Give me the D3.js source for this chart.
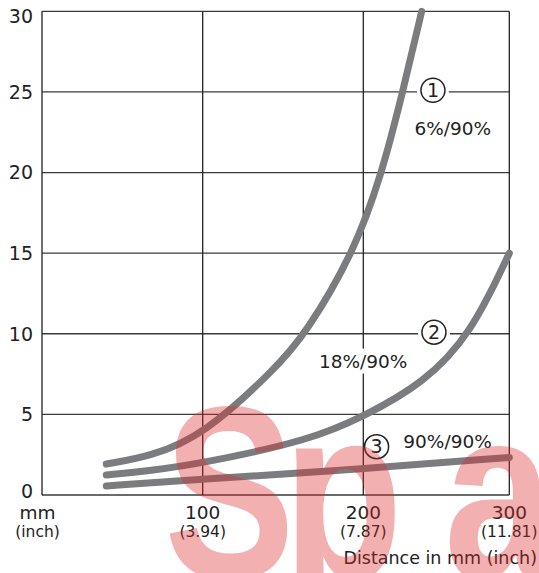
<!DOCTYPE html>
<html>
<head>
<meta charset="utf-8">
<script src="https://cdn.jsdelivr.net/npm/d3@7"></script>
<style>
  body { margin: 0; background: #fff; }
  text { font-family: "DejaVu Sans", sans-serif; fill: #222; }
</style>
</head>
<body>
<div id="chart"></div>
<script>
// data
// ==============================
var distTicks = [0, 100, 200, 300];
var inchLabels = ["", "(3.94)", "(7.87)", "(11.81)"];
var yTicks = [0, 5, 10, 15, 20, 25, 30];

// curve 1 : 6%/90%
var c1x = [40, 67, 100, 146, 164, 194, 213, 227, 240];
var c1y = [1.92, 2.38, 3.66, 7.9, 10, 15, 20, 25, 30];
// curve 2 : 18%/90%
var c2x = [40, 67, 100, 167, 200, 241, 274, 300];
var c2y = [1.24, 1.5, 1.97, 3.41, 4.86, 6.9, 10, 15];
// curve 3 : 90%/90%
var c3x = [40, 100, 200, 300];
var c3y = [0.56, 0.98, 1.62, 2.33];

var curveNames = ["1", "2", "3"];
var curveLabels = ["6%/90%", "18%/90%", "90%/90%"];
// where the circled number and the label sit (data units)
var markerX = [247.7, 248.4, 209.1];
var markerY = [25.1, 10.1, 3];
var labelX = [235, 172.4, 227.4];
var labelY = [22.33, 7.9, 2.93];

// svg container
var svgWidth = 539;
var svgHeight = 573;

var svg = d3.select("#chart")
  .append("svg")
  .attr("width", svgWidth)
  .attr("height", svgHeight);

// scales (the x axis of the picture is not quite even)
var xScale = d3.scaleLinear()
  .domain(distTicks)
  .range([42, 202.7, 363.3, 509.3]);

var yScale = d3.scaleLinear()
  .domain([0, 30])
  .range([495, 11.3]);

// grid
// ==============================
var grid = svg.append("g");

grid.selectAll(".hline")
  .data(yTicks)
  .enter()
  .append("line")
  .attr("x1", xScale(0))
  .attr("x2", xScale(300))
  .attr("y1", d => yScale(d))
  .attr("y2", d => yScale(d))
  .attr("stroke", "#3a3a3a")
  .attr("stroke-width", 1.3);

grid.selectAll(".vline")
  .data(distTicks)
  .enter()
  .append("line")
  .attr("x1", d => xScale(d))
  .attr("x2", d => xScale(d))
  .attr("y1", yScale(30))
  .attr("y2", yScale(0))
  .attr("stroke", "#222")
  .attr("stroke-width", 1.3);

// y tick labels
svg.selectAll(".ylab")
  .data(yTicks)
  .enter()
  .append("text")
  .attr("x", 33)
  .attr("y", d => Math.min(Math.max(yScale(d), 16), 491))
  .attr("dy", "0.36em")
  .attr("text-anchor", "end")
  .style("font-size", "19px")
  .text(d => d);

// x tick labels
var xlab = svg.selectAll(".xlab")
  .data(distTicks)
  .enter()
  .append("g")
  .attr("transform", d => `translate(${d === 0 ? 37.5 : xScale(d)}, 0)`);

xlab.append("text")
  .attr("y", 519)
  .attr("text-anchor", "middle")
  .style("font-size", "18.5px")
  .text(d => d === 0 ? "mm" : d);

xlab.append("text")
  .attr("y", 537)
  .attr("text-anchor", "middle")
  .style("font-size", "15.5px")
  .text((d, i) => i === 0 ? "(inch)" : inchLabels[i]);

svg.append("text")
  .attr("x", 537)
  .attr("y", 564)
  .attr("text-anchor", "end")
  .style("font-size", "17.5px")
  .text("Distance in mm (inch)");

// curve labels with white knock-out
// ==============================
var labels = svg.selectAll(".clab")
  .data(curveLabels)
  .enter()
  .append("text")
  .attr("x", (d, i) => xScale(labelX[i]))
  .attr("y", (d, i) => yScale(labelY[i]))
  .style("font-size", "18.5px")
  .text(d => d);

labels.each(function() {
  var b = this.getBBox();
  svg.insert("rect", "text")
    .attr("x", b.x - 3)
    .attr("y", b.y - 2)
    .attr("width", b.width + 6)
    .attr("height", b.height + 4)
    .attr("fill", "#fff");
});
// keep the rects just below the labels
labels.raise();

// curves
// ==============================
var line = d3.line()
  .x(d => xScale(d[0]))
  .y(d => yScale(d[1]))
  .curve(d3.curveBasis);

var curves = [
  d3.zip(c1x, c1y),
  d3.zip(c2x, c2y),
  d3.zip(c3x, c3y)
];

svg.selectAll(".curve")
  .data(curves)
  .enter()
  .append("path")
  .attr("d", line)
  .attr("fill", "none")
  .attr("stroke", "#7b7c80")
  .attr("stroke-width", 7)
  .attr("stroke-linecap", "round");

// circled numbers
var markers = svg.selectAll(".marker")
  .data(curveNames)
  .enter()
  .append("g")
  .attr("transform", (d, i) => `translate(${xScale(markerX[i])}, ${yScale(markerY[i])})`);

markers.append("circle")
  .attr("r", (d, i) => i < 2 ? 16 : 12.5)
  .attr("fill", "#fff");

markers.append("circle")
  .attr("r", 12)
  .attr("fill", "#fff")
  .attr("stroke", "#222")
  .attr("stroke-width", 1.5);

markers.append("text")
  .attr("text-anchor", "middle")
  .attr("dy", "0.36em")
  .style("font-size", "19px")
  .text(d => d);

// pale red watermark lying over everything
// ==============================
var wm = svg.append("g")
  .attr("pointer-events", "none")
  .attr("opacity", 0.36);

wm.selectAll("text")
  .data([["S", 164], ["p", 283], ["a", 444]])
  .enter()
  .append("text")
  .attr("transform", d => `translate(${d[1]}, 578) scale(0.8, 1)`)
  .style("font-family", "'Liberation Sans', Arial, sans-serif")
  .style("font-weight", "bold")
  .style("font-size", "245px")
  .style("fill", "#dc2828")
  .text(d => d[0]);
</script>
</body>
</html>
